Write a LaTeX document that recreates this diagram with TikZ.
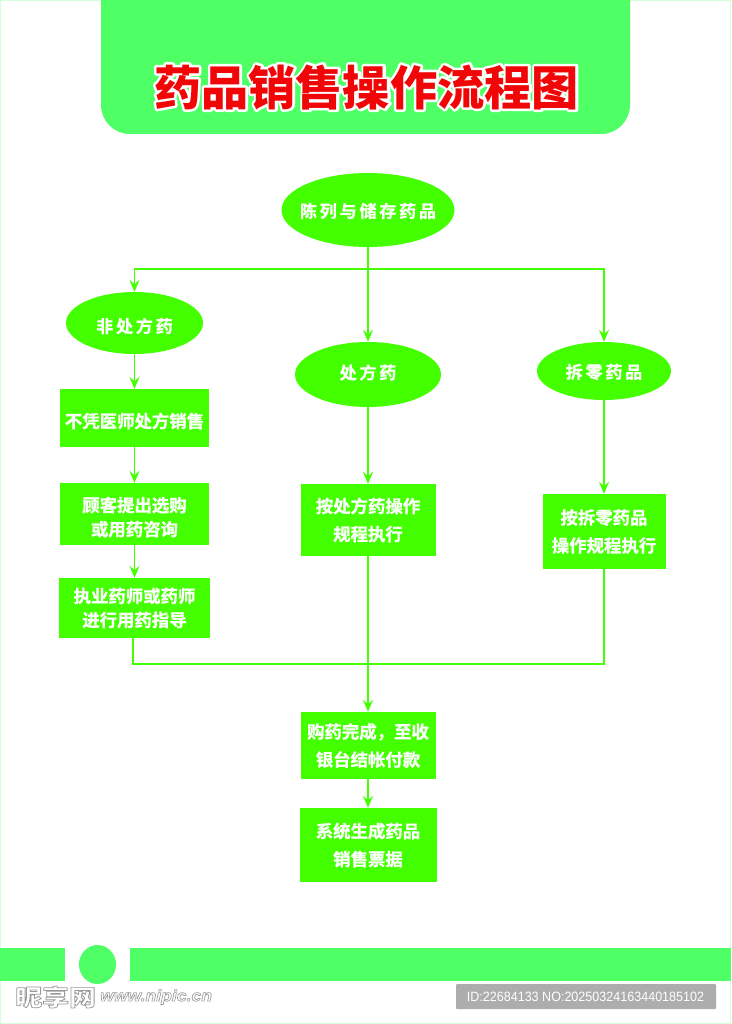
\documentclass[tikz,border=0pt]{standalone}
\usepackage{fontspec}
\usetikzlibrary{shapes.geometric,arrows.meta}
\setmainfont{Liberation Sans}
\newfontfamily\cjk[BoldFont=Noto Sans CJK SC Bold,BoldFeatures={FakeBold=1.0}]{Noto Sans CJK SC}
\newfontfamily\cjkheavy{Noto Sans CJK SC Black}
\definecolor{bandgreen}{HTML}{4FFF66}
\definecolor{nodegreen}{HTML}{44FF00}
\definecolor{titlered}{HTML}{F00606}
% text whose box is padded above (#1) and below (#2), which moves it inside its node
\newcommand{\padbox}[3]{\raisebox{0pt}[\dimexpr\height+#1\relax][\dimexpr\depth+#2\relax]{#3}}
\newcommand{\ovaltext}[3]{\makebox[0pt]{\padbox{#1}{#2}{#3}}}
\newcommand{\stacked}[1]{\begin{tabular}{@{}c@{}}#1\end{tabular}}
% outlined text: stroke colour #1, stroke width #2
\newcommand{\outlined}[3]{\special{pdf:code #1 RG #2 w 1 j 2 Tr}#3\special{pdf:code 0 Tr}}
\tikzset{
  x=1pt,y=-1pt,
  oval/.style={ellipse,fill=nodegreen,inner sep=0pt,minimum width=#1,text=white,font=\cjk\bfseries\fontsize{17}{17}\selectfont},
  boxn/.style={rectangle,fill=nodegreen,inner sep=0pt,text=white,align=center,font=\cjk\bfseries\fontsize{17.4}{#1}\selectfont},
  conn/.style={draw=nodegreen,line width=1.8pt},
  arr/.style={conn,-{Stealth[length=12pt,width=10pt,inset=4.5pt]}},
  wmcjk/.style={font=\cjkheavy\fontsize{23}{23}\selectfont,inner sep=0pt,anchor=west,xscale=1.17},
  wmurl/.style={font=\bfseries\itshape\fontsize{16}{16}\selectfont,inner sep=0pt,anchor=west,xscale=1.1},
  titletext/.style={font=\cjkheavy\fontsize{47.2}{47.2}\selectfont,inner sep=0pt},
}
\begin{document}
\begin{tikzpicture}
\useasboundingbox (0,0) rectangle (731,1024);
\fill[white] (0,0) rectangle (731,1024);
\draw[color=bandgreen!25,line width=1pt] (0.5,0.5) rectangle (730.5,1023.5);
% header
\fill[bandgreen] (101,0) [rounded corners=29pt] -- (101,134) -- (630,134) [sharp corners] -- (630,0) -- cycle;
\node[text=white,titletext] (titlehalo) at (366.5,87) {\outlined{1 1 1}{5}{药品销售操作流程图}};
\node[text=titlered,titletext] (title) at (366.5,87) {药品销售操作流程图};
% ovals
\node[oval=173pt,minimum height=74pt] (start) at (368,210) {\ovaltext{2pt}{0pt}{陈\,列\,与\,储\,存\,药\,品}};
\node[oval=137pt,minimum height=62pt] (otc) at (134.5,323) {\ovaltext{6pt}{0pt}{非\,处\,方\,药}};
\node[oval=146pt,minimum height=65pt] (rx) at (368,374.5) {\ovaltext{0pt}{4pt}{处\,方\,药}};
\node[oval=134pt,minimum height=58pt] (split) at (604,371) {\ovaltext{2pt}{0pt}{拆\,零\,药\,品}};
% boxes
\node[boxn=24,minimum width=149pt,minimum height=58pt] (b1) at (134.5,418) {\padbox{6pt}{0pt}{不凭医师处方销售}};
\node[boxn=24,minimum width=149pt,minimum height=62pt] (b2) at (134.5,514) {\padbox{10pt}{0pt}{\stacked{顾客提出选购\\或用药咨询}}};
\node[boxn=24,minimum width=151pt,minimum height=60pt] (b3) at (134.5,608) {执业药师或药师\\进行用药指导};
\node[boxn=28,minimum width=135pt,minimum height=72pt] (r1) at (368,520) {按处方药操作\\规程执行};
\node[boxn=28,minimum width=123pt,minimum height=75pt] (s1) at (604,531.5) {按拆零药品\\操作规程执行};
\node[boxn=28,minimum width=135pt,minimum height=67pt] (pay) at (368,745.5) {购药完成，至收\\银台结帐付款};
\node[boxn=28,minimum width=137pt,minimum height=74pt] (rcpt) at (368,845) {系统生成药品\\销售票据};
% connectors
\coordinate (hub) at (368,269);
\coordinate (merge) at (368,664);
\coordinate (b3out) at (133,638);
\draw[conn] (start.south) -- (hub);
\draw[arr] (hub) -| (otc.north);
\draw[arr] (hub) -- (rx.north);
\draw[arr] (hub) -| (split.north);
\draw[arr] (otc.south) -- (b1.north);
\draw[arr] (b1.south) -- (b2.north);
\draw[arr] (b2.south) -- (b3.north);
\draw[arr] (rx.south) -- (r1.north);
\draw[arr] (split.south) -- (s1.north);
\draw[arr] (r1.south) -- (pay.north);
\draw[conn] (b3out) |- (merge);
\draw[conn] (s1.south) |- (merge);
\draw[arr] (pay.south) -- (rcpt.north);
% footer band
\fill[bandgreen] (0,948) rectangle (65,981);
\fill[bandgreen] (130,948) rectangle (731,981);
\fill[bandgreen] (97.5,964.5) ellipse[x radius=18.5,y radius=19.5];
% watermark
\node[text=white,wmcjk] (wm1) at (15,997) {\outlined{0.6 0.6 0.6}{0.7}{昵享网}};
\node[text=white,wmurl] (wm2) at (100,997) {\outlined{0.6 0.6 0.6}{0.6}{www.nipic.cn}};
% id box
\fill[black!32,rounded corners=1pt] (456,984) rectangle (716,1009);
\node[text=white,font=\fontsize{13.5}{13.5}\selectfont,inner sep=0pt,xscale=0.93] (idtext) at (585.5,996.5) {ID:22684133 NO:20250324163440185102};
\end{tikzpicture}
\end{document}
